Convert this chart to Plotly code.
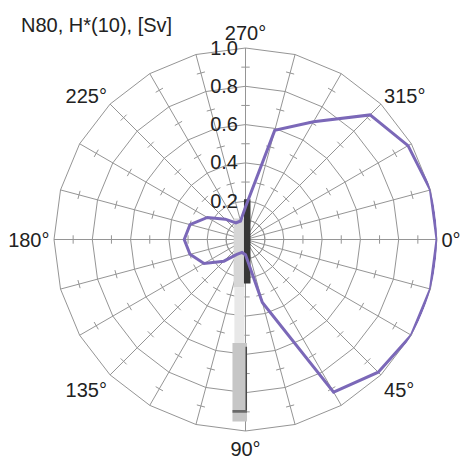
import math
import plotly.graph_objects as go

# measurement angles (deg, clockwise from the right) and dose values
angles = [0, 15, 30, 45, 60, 75, 90, 105, 120, 135, 150, 165,
          180, 195, 210, 225, 240, 255, 270, 285, 300, 315, 330, 345]
dose = [1.00, 1.00, 1.00, 0.98, 0.92, 0.34, 0.08, 0.07, 0.09, 0.16, 0.25, 0.30,
        0.32, 0.30, 0.23, 0.15, 0.10, 0.10, 0.17, 0.59, 0.71, 0.92, 0.98, 1.00]
labelled_angles = [0, 45, 90, 135, 180, 225, 270, 315]
r_tickvals = [0.2, 0.4, 0.6, 0.8, 1.0]
r_ticktext = ['0.2', '0.4', '0.6', '0.8', '1.0']
minor_r = [0.1, 0.3, 0.5, 0.7, 0.9]

# detector sketch: rectangles in radial units (u to the right, v downward)
detector = [
    # u0, u1, v0, v1, colour
    (-0.062, -0.005, -0.11, 0.25, '#d6d6d6'),
    (-0.058, -0.005, 0.25, 0.54, '#e8e8e8'),
    (-0.068, 0.008, 0.54, 0.95, '#c6c6c6'),
    (0.0, 0.008, 0.56, 0.89, '#4a4a4a'),
    (-0.068, 0.008, 0.89, 0.905, '#6a6a6a'),
    (-0.008, 0.026, -0.21, 0.23, '#363636'),
]

grid = '#959595'
purple = '#7b68b8'
font = 'Liberation Sans, Arial, sans-serif'

cats = [str(a) for a in angles]
ticktext = [f'{a}°' if a in labelled_angles else '' for a in angles]

fig = go.Figure()

# little ticks along every spoke
fig.add_trace(go.Scatterpolar(
    theta=[c for c in cats for _ in minor_r],
    r=[m for _ in cats for m in minor_r],
    mode='markers', subplot='polar',
    marker=dict(symbol='line-ns', size=6, angle=[a for a in angles for _ in minor_r],
                line=dict(color=grid, width=1)),
    hoverinfo='skip', showlegend=False))

def to_polar(u, v):
    return math.hypot(u, v), math.degrees(math.atan2(v, u)) % 360

for u0, u1, v0, v1, col in detector:
    pts = [to_polar(u, v) for u, v in [(u0, v0), (u1, v0), (u1, v1), (u0, v1), (u0, v0)]]
    fig.add_trace(go.Scatterpolar(
        r=[p[0] for p in pts], theta=[p[1] for p in pts], subplot='polar2',
        mode='lines', fill='toself', fillcolor=col, line=dict(width=0),
        hoverinfo='skip', showlegend=False))

fig.add_trace(go.Scatterpolar(
    theta=angles + [angles[0]], r=dose + [dose[0]], subplot='polar2',
    mode='lines', line=dict(color=purple, width=3), showlegend=False))

full = dict(x=[0, 1], y=[0, 1])
fig.update_layout(
    width=464, height=460,
    margin=dict(l=54, r=27, t=48, b=29),
    paper_bgcolor='white',
    font=dict(family=font, size=20, color='#222222'),
    title=dict(text='N80, H*(10), [Sv]', x=21 / 464, xanchor='left',
               y=1 - 25 / 460, yanchor='middle', font=dict(size=20)),
    polar=dict(
        domain=full, bgcolor='white', gridshape='linear',
        angularaxis=dict(type='category', categoryarray=cats, rotation=0, direction='clockwise',
                         tickmode='array', tickvals=cats, ticktext=ticktext,
                         showline=True, linecolor=grid, linewidth=1,
                         gridcolor=grid, gridwidth=1, ticks=''),
        radialaxis=dict(range=[0, 1], angle=90, tickangle=90, tickmode='array',
                        tickvals=r_tickvals, ticktext=r_ticktext, side='counterclockwise',
                        showline=True, linecolor=grid, linewidth=1,
                        gridcolor=grid, gridwidth=1, ticks=''),
    ),
    polar2=dict(
        domain=full, bgcolor='rgba(0,0,0,0)',
        angularaxis=dict(visible=False, rotation=0, direction='clockwise'),
        radialaxis=dict(visible=False, range=[0, 1]),
    ),
)

fig.write_html('out.html', config={'displayModeBar': False},
               post_script="document.body.style.margin='0px';")
